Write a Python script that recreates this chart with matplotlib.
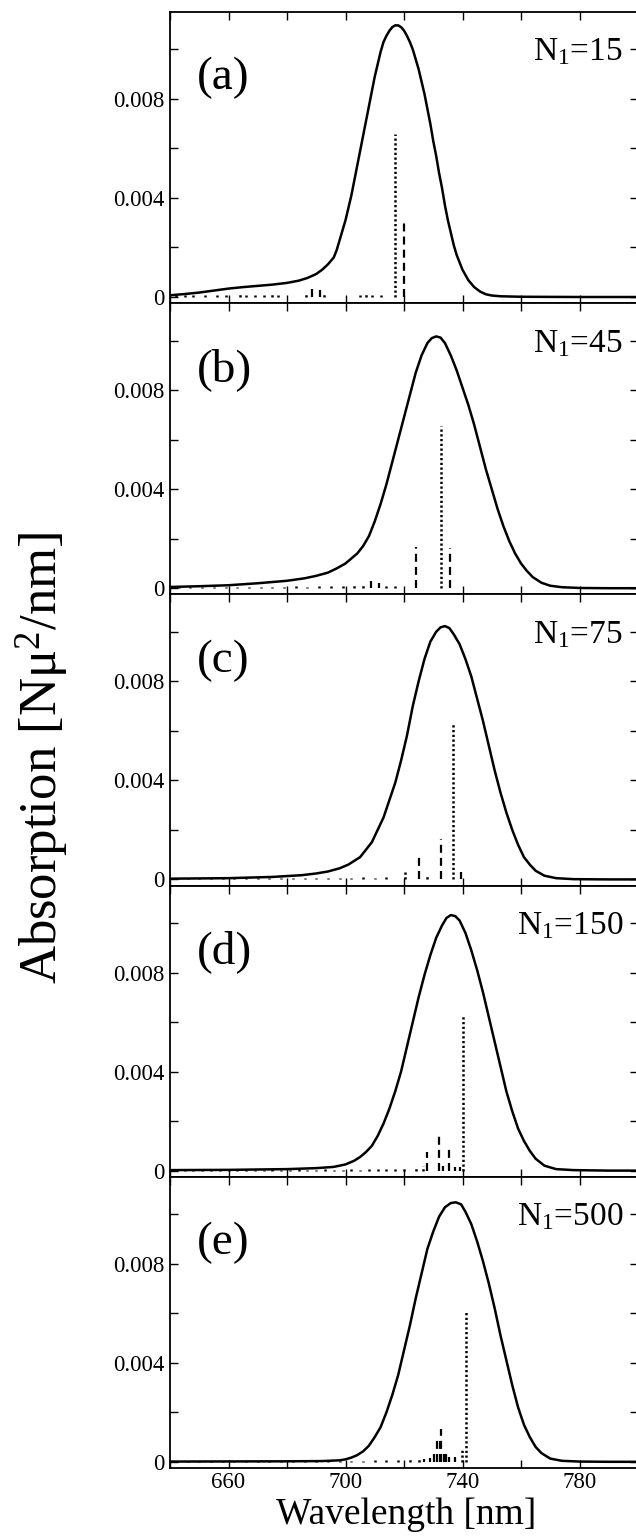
import matplotlib
matplotlib.use("Agg")
import matplotlib.pyplot as plt

plt.rcParams['font.family'] = ['Liberation Serif', 'DejaVu Serif']
plt.rcParams['mathtext.fontset'] = 'custom'
plt.rcParams['mathtext.rm'] = 'Liberation Serif'
plt.rcParams['mathtext.it'] = 'Liberation Serif:italic'

# ---------------- data ----------------
panel_tags = ['(a)', '(b)', '(c)', '(d)', '(e)']
cluster_sizes = ['15', '45', '75', '150', '500']

x_ticks = [640, 660, 680, 700, 720, 740, 760, 780, 800]
x_ticklabels = ['', '660', '', '700', '', '740', '', '780', '']
y_ticks = [0, 0.002, 0.004, 0.006, 0.008, 0.010]
y_ticklabels = ['0', '', '0.004', '', '0.008', '']

# (a) N1 = 15
wl_a = [640, 645, 650, 655, 660, 665, 670, 675, 680, 684, 687, 690, 692, 694, 696, 697, 698, 699, 700,
        701, 702, 703, 704, 705, 706, 707, 708, 709, 710, 711, 712, 713, 714, 715, 716, 717, 718, 719,
        720, 721, 722, 723, 724, 725, 726, 727, 728, 729, 730, 731, 732, 733, 734, 735, 736, 737, 738,
        739, 740, 742, 744, 746, 748, 750, 753, 760, 780, 800]
abs_a = [0.00007, 0.00012, 0.00018, 0.00026, 0.00034, 0.0004, 0.00045, 0.0005, 0.00057, 0.00066,
         0.00077, 0.00093, 0.0011, 0.00132, 0.0016, 0.0019, 0.0023, 0.0027, 0.0031, 0.0036, 0.0041,
         0.0047, 0.0053, 0.0059, 0.0065, 0.0071, 0.0077, 0.0083, 0.0089, 0.0094, 0.0099, 0.0103,
         0.01055, 0.01075, 0.0109, 0.01097, 0.01097, 0.0109, 0.01076, 0.01055, 0.0103, 0.0100, 0.0096,
         0.0092, 0.0087, 0.0082, 0.0076, 0.0070, 0.0063, 0.0057, 0.0050, 0.0044, 0.0037, 0.0031,
         0.0026, 0.0021, 0.0017, 0.0014, 0.0011, 0.00068, 0.0004, 0.00022, 0.00011, 0.00006, 0.00003,
         0.00001, 0.0, 0.0]
dot_wl_a = [716.8, 642, 645, 648, 652, 656, 659, 664, 666, 669, 672, 675, 677, 686.5, 692.5, 705, 707, 709, 712]
dot_h_a = [0.0066, 0.0001, 0.00008, 0.0001, 0.00008, 0.0001, 0.00008, 0.00012, 0.0001, 0.00008,
           0.0001, 0.00012, 0.0001, 0.00015, 0.00012, 0.0001, 0.00012, 0.0001, 0.00008]
dash_wl_a = [720.0, 688.4, 691.2]
dash_h_a = [0.0031, 0.00035, 0.0003]

# (b) N1 = 45
wl_b = [640, 650, 660, 670, 680, 686, 690, 694, 697, 700, 702, 704, 706, 708, 710, 712, 714, 716, 718,
        720, 722, 724, 726, 728, 729.5, 731, 732.5, 734, 736, 738, 740, 742, 744, 746, 748, 750, 752,
        754, 756, 758, 760, 762, 764, 767, 770, 774, 780, 790, 800]
abs_b = [0.00005, 0.00008, 0.00012, 0.0002, 0.0003, 0.0004, 0.0005, 0.00063, 0.0008, 0.0010, 0.0012,
         0.0014, 0.0017, 0.0021, 0.0027, 0.0034, 0.0042, 0.0051, 0.0060, 0.0069, 0.0078, 0.0087,
         0.0094, 0.0099, 0.0101, 0.01017, 0.01012, 0.0099, 0.0094, 0.0088, 0.0081, 0.0074, 0.0066,
         0.0057, 0.0048, 0.0040, 0.0032, 0.0025, 0.0019, 0.0014, 0.0010, 0.0007, 0.00045, 0.00022,
         0.0001, 0.00004, 0.00001, 0.0, 0.0]
dot_wl_b = [732.7, 643, 647, 651, 655, 659, 663, 667, 671, 675, 679, 683, 687, 691, 695, 699, 703, 706, 714, 717]
dot_h_b = [0.00654, 0.00005, 0.00005, 0.00006, 0.00005, 0.00005, 0.00006, 0.00005, 0.00006, 0.00005,
           0.00006, 0.00008, 0.00006, 0.00008, 0.0001, 0.0001, 0.00012, 0.00012, 0.0001, 0.00008]
dash_wl_b = [724.1, 735.8, 708.8, 711.6]
dash_h_b = [0.00168, 0.00164, 0.0003, 0.00022]

# (c) N1 = 75
wl_c = [640, 660, 675, 685, 690, 694, 698, 701, 703, 705, 707, 709, 711, 713, 715, 717, 719, 721, 723,
        725, 727, 729, 731, 732.5, 734, 735.5, 737, 739, 741, 743, 745, 747, 749, 751, 753, 755, 757,
        759, 761, 763, 765, 768, 772, 778, 790, 800]
abs_c = [0.00003, 0.00005, 0.0001, 0.00017, 0.00024, 0.00032, 0.00045, 0.0006, 0.00075, 0.0009, 0.0012,
         0.0015, 0.0020, 0.0025, 0.0032, 0.0039, 0.0048, 0.0058, 0.0070, 0.0080, 0.0089, 0.0096,
         0.0100, 0.01018, 0.01023, 0.01015, 0.0099, 0.0095, 0.0089, 0.0082, 0.0073, 0.0064, 0.0054,
         0.0044, 0.0035, 0.0027, 0.0020, 0.0014, 0.0009, 0.0006, 0.00035, 0.00015, 0.00005, 0.00001,
         0.0, 0.0]
dot_wl_c = [736.6, 642, 646, 650, 654, 658, 662, 666, 670, 674, 678, 682, 686, 690, 694, 698, 702, 706, 710, 714, 720.2, 727.8]
dot_h_c = [0.00627, 0.00005, 0.00004, 0.00005, 0.00004, 0.00005, 0.00004, 0.00005, 0.00004, 0.00005,
           0.00004, 0.00005, 0.00006, 0.00005, 0.00006, 0.00005, 0.00006, 0.00008, 0.00006, 0.00008,
           0.0004, 0.00015]
dash_wl_c = [725.0, 732.8, 739.6]
dash_h_c = [0.00096, 0.00163, 0.0003]

# (d) N1 = 150
wl_d = [640, 660, 680, 690, 696, 700, 703, 705, 707, 709, 711, 713, 715, 717, 719, 721, 723, 725, 727,
        729, 731, 733, 734.5, 736, 737.5, 739, 741, 743, 745, 747, 749, 751, 753, 755, 757, 759, 761,
        763, 765, 768, 772, 778, 790, 800]
abs_d = [0.00002, 0.00003, 0.00006, 0.0001, 0.00015, 0.00025, 0.0004, 0.00055, 0.00075, 0.0010, 0.0014,
         0.0019, 0.0025, 0.0032, 0.0040, 0.0050, 0.0060, 0.0070, 0.0079, 0.0087, 0.0094, 0.0099,
         0.0102, 0.01032, 0.01028, 0.0101, 0.0096, 0.0089, 0.0081, 0.0072, 0.0062, 0.0052, 0.0042,
         0.0032, 0.0024, 0.0017, 0.0012, 0.0008, 0.00048, 0.0002, 0.00006, 0.00002, 0.0, 0.0]
dot_wl_d = [740.3, 642, 645, 648, 651, 654, 657, 660, 663, 666, 669, 672, 675, 678, 681, 684, 687, 690,
            693, 696, 699, 702, 705, 708, 711, 714, 717, 720, 724, 726.5]
dot_h_d = [0.00626, 0.00004, 0.00004, 0.00005, 0.00004, 0.00004, 0.00005, 0.00004, 0.00004, 0.00005,
           0.00004, 0.00004, 0.00005, 0.00004, 0.00004, 0.00005, 0.00004, 0.00004, 0.00005, 0.00004,
           0.00004, 0.00005, 0.00004, 0.00005, 0.00006, 0.00005, 0.00008, 0.00006, 0.0001, 0.0002]
dash_wl_d = [727.8, 731.8, 735.3, 733.2, 737.6, 739.0]
dash_h_d = [0.00075, 0.00156, 0.00089, 0.0002, 0.00015, 0.00015]

# (e) N1 = 500
wl_e = [640, 680, 692, 698, 700, 702, 704, 706, 708, 710, 712, 714, 716, 718, 720, 722, 724, 726, 728,
        730, 732, 734, 736, 737.7, 739.5, 741, 743, 745, 747, 749, 751, 753, 755, 757, 759, 761, 763,
        765, 767, 770, 774, 780, 790, 800]
abs_e = [0.00001, 0.00002, 0.00003, 0.00006, 0.0001, 0.00017, 0.00027, 0.00042, 0.00065, 0.0010, 0.0014,
         0.0020, 0.0027, 0.0035, 0.0045, 0.0055, 0.0066, 0.0076, 0.0086, 0.0093, 0.0099, 0.01028,
         0.01045, 0.01048, 0.0104, 0.0101, 0.0096, 0.0089, 0.0081, 0.0072, 0.0062, 0.0051, 0.0041,
         0.0031, 0.0022, 0.0015, 0.0010, 0.0006, 0.00035, 0.00013, 0.00004, 0.00001, 0.0, 0.0]
dot_wl_e = [741.3, 739.8, 642, 646, 650, 654, 658, 662, 666, 670, 674, 678, 682, 686, 690, 694, 698,
            702, 706, 710, 714, 718, 722, 725]
dot_h_e = [0.00605, 0.00047, 0.00004, 0.00004, 0.00004, 0.00004, 0.00004, 0.00004, 0.00004, 0.00004,
           0.00004, 0.00004, 0.00004, 0.00004, 0.00004, 0.00004, 0.00005, 0.00005, 0.00005, 0.00006,
           0.00006, 0.00008, 0.0001, 0.00012]
dash_wl_e = [732.8, 731.3, 732.2, 730.4, 733.6, 734.5, 735.5, 737.5, 729.0, 727.0]
dash_h_e = [0.00134, 0.0009, 0.0009, 0.0004, 0.0004, 0.0003, 0.0002, 0.0002, 0.00015, 0.0001]

curves_wl = [wl_a, wl_b, wl_c, wl_d, wl_e]
curves_abs = [abs_a, abs_b, abs_c, abs_d, abs_e]
dots_wl = [dot_wl_a, dot_wl_b, dot_wl_c, dot_wl_d, dot_wl_e]
dots_h = [dot_h_a, dot_h_b, dot_h_c, dot_h_d, dot_h_e]
dashes_wl = [dash_wl_a, dash_wl_b, dash_wl_c, dash_wl_d, dash_wl_e]
dashes_h = [dash_h_a, dash_h_b, dash_h_c, dash_h_d, dash_h_e]

# ---------------- figure ----------------
W, H = 636, 1538
fig = plt.figure(figsize=(W / 100, H / 100), dpi=100)

left_px, right_px = 170, 638
top_px, bottom_px = 12, 1468
n = 5
ph = (bottom_px - top_px) / n

dotted = (0, (0.9, 1.0))
dashed = (0, (3.6, 2.3))

for i in range(n):
    y0 = H - (top_px + (i + 1) * ph)
    ax = fig.add_axes([left_px / W, y0 / H, (right_px - left_px) / W, ph / H])
    ax.plot(curves_wl[i], curves_abs[i], color='k', lw=1.8,
            solid_joinstyle='round', solid_capstyle='round')
    ax.vlines(dots_wl[i], 0, dots_h[i], colors='k', linestyles=[dotted], lw=1.8)
    ax.vlines(dashes_wl[i], 0, dashes_h[i], colors='k', linestyles=[dashed], lw=1.6)
    ax.set_xlim(640, 800)
    ax.set_ylim(-0.00025, 0.01151)
    ax.set_xticks(x_ticks)
    ax.set_yticks(y_ticks)
    ax.set_yticklabels(y_ticklabels)
    if i == n - 1:
        ax.set_xticklabels(x_ticklabels)
    else:
        ax.set_xticklabels([''] * len(x_ticks))
    ax.tick_params(axis='both', which='both', direction='in', top=True, right=True,
                   length=5.5, width=1.0, labelsize=16.5, pad=4)
    ax.tick_params(axis='x', pad=3)
    for sp in ax.spines.values():
        sp.set_linewidth(1.3)
    ax.text(0.057, 0.773, panel_tags[i], transform=ax.transAxes, fontsize=34,
            ha='left', va='center')
    ax.text(0.968, 0.862, r'N$\mathregular{_1}$=' + cluster_sizes[i],
            transform=ax.transAxes, fontsize=24, ha='right', va='center')

fig.text(42 / W, 1 - 758 / H, r'Absorption [Nμ$\mathregular{^2}$/nm]', rotation=90,
         fontsize=38, ha='center', va='center')
fig.text(406 / W, 1 - 1515 / H, 'Wavelength [nm]', fontsize=27, ha='center', va='center')

fig.savefig('out.png', dpi=100)
